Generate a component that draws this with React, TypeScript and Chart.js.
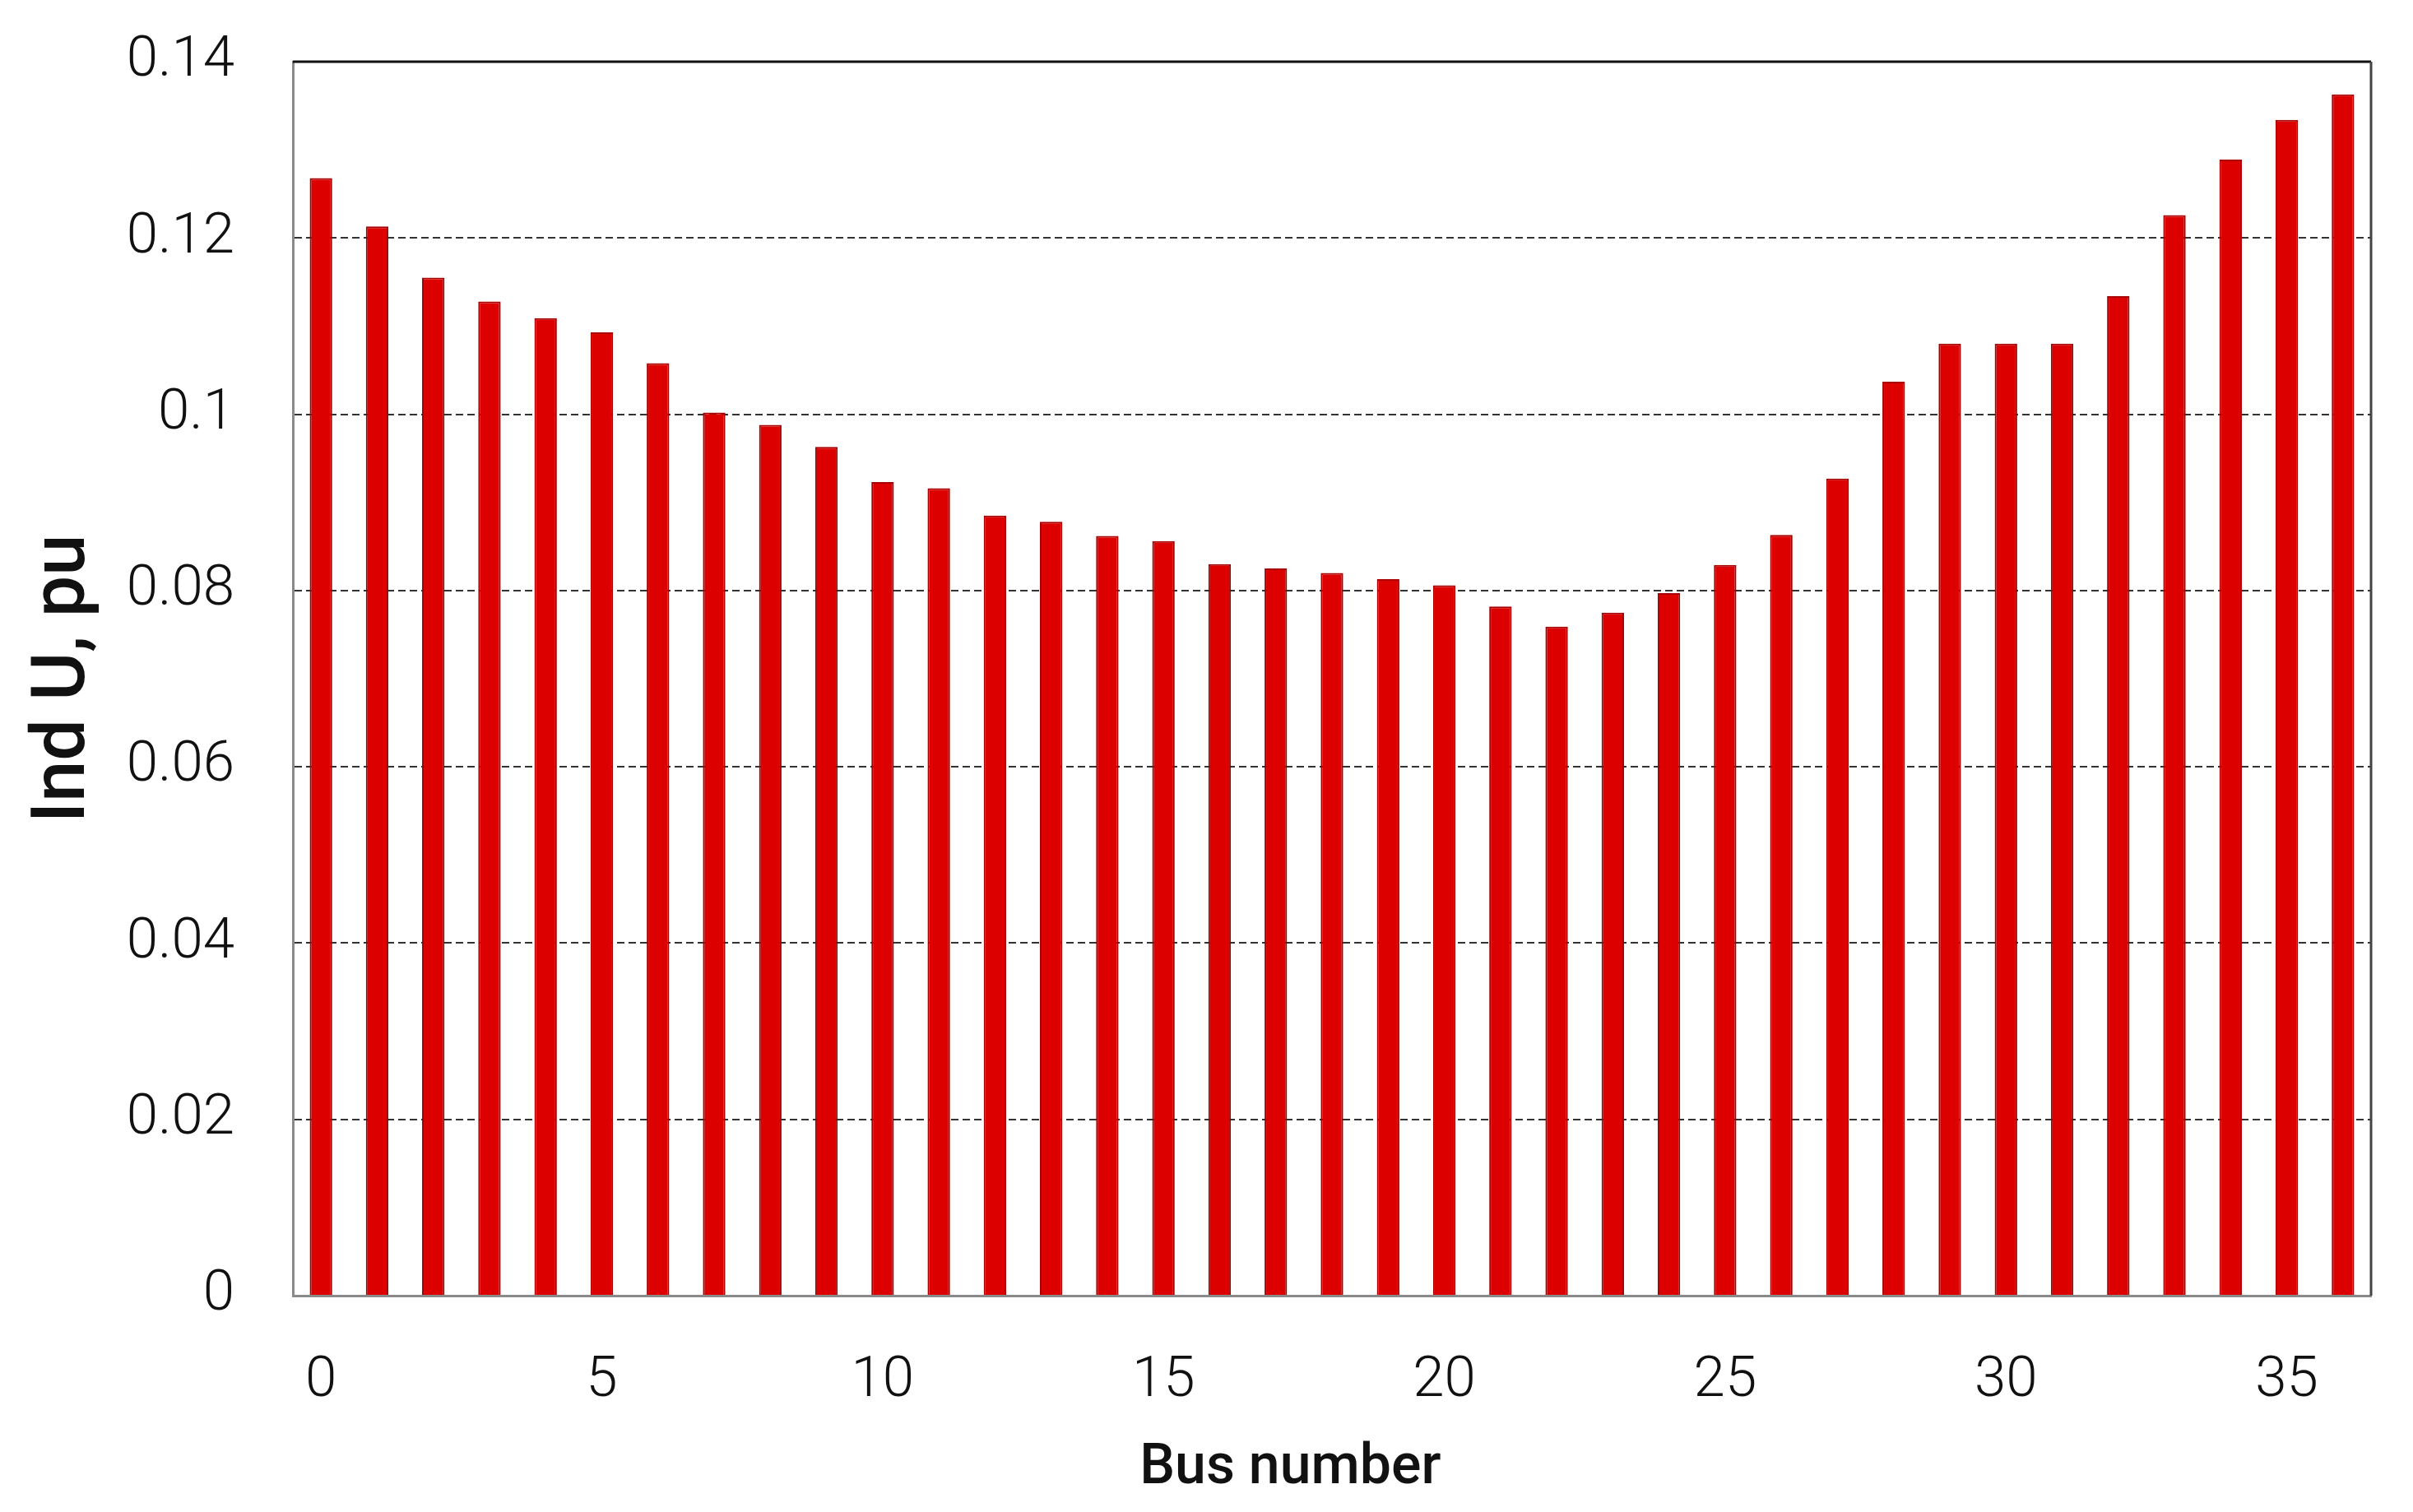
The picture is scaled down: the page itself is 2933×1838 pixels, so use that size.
import React, { useEffect, useRef } from "react";
import { Chart, registerables } from "chart.js";

Chart.register(...registerables);

const busNumbers: string[] = Array.from({ length: 37 }, (_, i) => String(i));
const indU: number[] = [
  0.1268, 0.1213, 0.1155, 0.1128, 0.1109, 0.1093, 0.1058, 0.1002, 0.0988, 0.0963,
  0.0923, 0.0916, 0.0885, 0.0878, 0.0862, 0.0856, 0.0830, 0.0825, 0.0820, 0.0813,
  0.0806, 0.0782, 0.0759, 0.0775, 0.0797, 0.0829, 0.0863, 0.0927, 0.1037, 0.1080,
  0.1080, 0.1080, 0.1134, 0.1226, 0.1289, 0.1334, 0.1363,
];
const yMin = 0;
const yMax = 0.14;
const yStep = 0.02;
const xTitle = "Bus number      ";
const yTitle = "Ind U, pu";

const TICK_FONT = "Roboto, sans-serif";
const TITLE_FONT = "Roboto, sans-serif";

const framePlugin = {
  id: "frame",
  afterDraw(chart: any) {
    const { ctx, chartArea } = chart;
    ctx.save();
    ctx.lineWidth = 3;
    ctx.strokeStyle = "#111";
    ctx.beginPath();
    ctx.moveTo(chartArea.left, chartArea.top);
    ctx.lineTo(chartArea.right, chartArea.top);
    ctx.stroke();
    ctx.strokeStyle = "#444";
    ctx.beginPath();
    ctx.moveTo(chartArea.right, chartArea.top);
    ctx.lineTo(chartArea.right, chartArea.bottom);
    ctx.stroke();
    ctx.restore();
  },
};

export default function App() {
  const ref = useRef<HTMLCanvasElement | null>(null);
  useEffect(() => {
    if (!ref.current) return;
    const chart = new Chart(ref.current, {
      type: "bar",
      data: {
        labels: busNumbers,
        datasets: [
          {
            data: indU,
            backgroundColor: "#dd0000",
            borderColor: "#a80000",
            borderWidth: 2,
            barPercentage: 0.4,
            categoryPercentage: 1,
          },
        ],
      },
      options: {
        responsive: false,
        animation: false,
        layout: { padding: { left: 0, top: 75, right: 51, bottom: 0 } },
        plugins: { legend: { display: false }, tooltip: { enabled: false } },
        scales: {
          x: {
            offset: true,
            grid: { display: false },
            border: { display: true, color: "#8a8a8a", width: 3 },
            ticks: {
              autoSkip: false,
              maxRotation: 0,
              minRotation: 0,
              padding: 55,
              color: "#111",
              font: { family: TICK_FONT, size: 69, weight: "300" },
              callback: (_v: any, i: number) => (i % 5 === 0 ? busNumbers[i] : ""),
            },
            title: {
              display: true,
              text: xTitle,
              color: "#111",
              font: { family: TITLE_FONT, size: 68, weight: "500" },
              padding: { top: 0, bottom: 11 },
            },
            afterFit: (s: any) => {
              s.height = 263;
            },
          },
          y: {
            min: yMin,
            max: yMax,
            ticks: {
              stepSize: yStep,
              padding: 71,
              color: "#111",
              font: { family: TICK_FONT, size: 69, weight: "300" },
              callback: (v: any) => String(Number(Number(v).toFixed(2))),
            },
            grid: {
              drawTicks: false,
              lineWidth: 2,
              color: (c: any) =>
                c.tick && (c.tick.value <= yMin + 1e-9 || c.tick.value >= yMax - 1e-9)
                  ? "rgba(0,0,0,0)"
                  : "#333",
            },
            border: { display: true, color: "#8a8a8a", width: 3, dash: [9, 5] },
            title: {
              display: true,
              text: yTitle,
              color: "#111",
              font: { family: TITLE_FONT, size: 90, weight: "500" },
              padding: { top: 25, bottom: 0 },
            },
            afterFit: (s: any) => {
              s.width = 356;
              s.paddingTop = 0;
              s.paddingBottom = 0;
            },
          },
        },
      },
      plugins: [framePlugin],
    });
    return () => chart.destroy();
  }, []);
  return (
    <div style={{ position: "absolute", left: 0, top: 0, width: 2933, height: 1838, background: "#fff" }}>
      <canvas ref={ref} width={2933} height={1838} />
    </div>
  );
}
